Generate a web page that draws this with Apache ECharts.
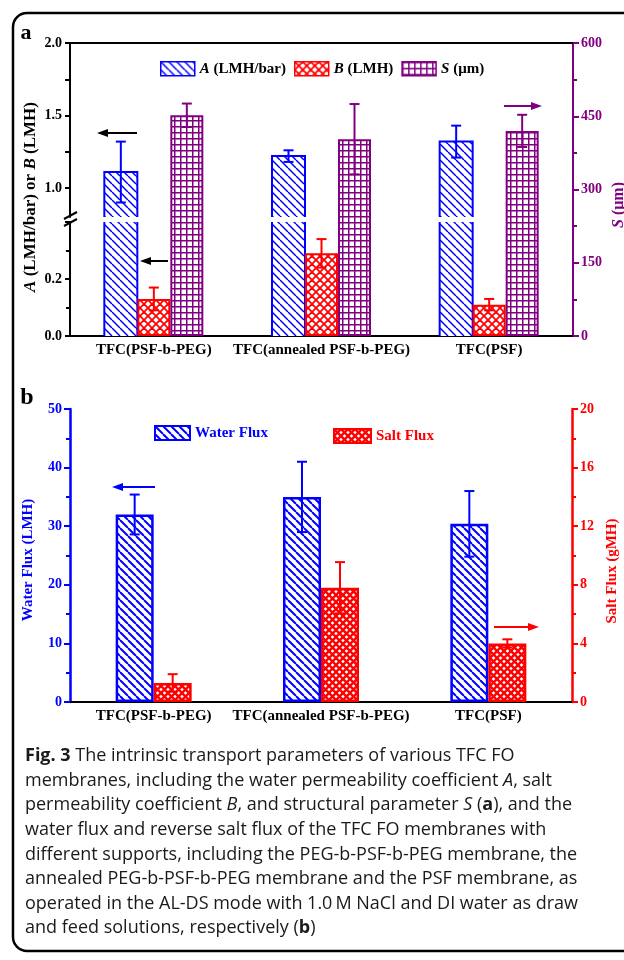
<!DOCTYPE html>
<html>
<head>
<meta charset="utf-8">
<script src="https://cdn.jsdelivr.net/npm/echarts@6/dist/echarts.min.js"></script>
<style>
html, body { margin: 0; padding: 0; background: #fff; }
#chart { width: 624px; height: 960px; }
</style>
</head>
<body>
<div id="chart"></div>
<script>
// membrane supports
const categories = ['TFC(PSF-b-PEG)', 'TFC(annealed PSF-b-PEG)', 'TFC(PSF)'];

// panel a: intrinsic transport parameters
const permA = [1.11, 1.22, 1.32];       // LMH/bar
const permAErr = [0.21, 0.04, 0.11];
const permB = [0.13, 0.29, 0.11];       // LMH
const permBErr = [0.04, 0.05, 0.02];
const structS = [452, 403, 420];        // um
const structSErr = [24, 72, 33];

// panel b: water flux and reverse salt flux
const waterFlux = [32.0, 35.0, 30.4];   // LMH
const waterFluxErr = [3.4, 6.0, 5.6];
const saltFlux = [1.3, 7.8, 4.0];       // gMH
const saltFluxErr = [0.6, 1.75, 0.28];

// tick values of the broken left axis in panel a
const upperLabels = [1.0, 1.5, 2.0];
const upperTicks = [1.0, 1.25, 1.5, 1.75, 2.0];
const BREAK_LOW = 0.4, BREAK_HIGH = 0.8;

const SERIF = "'Liberation Serif', 'DejaVu Serif', serif";
const BLUE = '#0000ff', RED = '#ff0000', PURPLE = '#800080';
const BAR_A = 33, BAR_B = 38;
const CAP_SIZE = 18;

// hatch pattern tiles
function tile(size, draw) {
	const c = document.createElement('canvas');
	c.width = c.height = size;
	const g = c.getContext('2d');
	g.fillStyle = '#fff';
	g.fillRect(0, 0, size, size);
	draw(g, size);
	return {image: c, repeat: 'repeat'};
}
function diag(color, s, lw) {
	return tile(s, (g) => {
		g.strokeStyle = color; g.lineWidth = lw;
		for (let k = -1; k <= 1; k++) {
			g.beginPath(); g.moveTo(k * s, 0); g.lineTo(k * s + s, s); g.stroke();
		}
	});
}
function cross(color, s, lw) {
	return tile(s, (g) => {
		g.strokeStyle = color; g.lineWidth = lw;
		for (let k = -1; k <= 1; k++) {
			g.beginPath(); g.moveTo(k * s, 0); g.lineTo(k * s + s, s); g.stroke();
			g.beginPath(); g.moveTo(k * s + s, 0); g.lineTo(k * s, s); g.stroke();
		}
	});
}
function grid(color, s, lw) {
	return tile(s, (g) => {
		g.fillStyle = color;
		g.fillRect(0, 0, lw, s);
		g.fillRect(0, 0, s, lw);
	});
}
const patA = diag(BLUE, 8, 1.5);
const patB = cross(RED, 8, 1.8);
const patS = grid(PURPLE, 6, 1.5);
const patW = diag(BLUE, 8, 2);
const patSalt = cross(RED, 7, 2.4);

// A bars are cut by the axis break, so draw each piece with side edges only
function aPiece(lo, hi) {
	return function (params, api) {
		const i = api.value(0), v = api.value(1);
		if (v <= lo) return null;
		const top = api.coord([i, Math.min(v, hi)]);
		const base = api.coord([i, lo]);
		const x0 = top[0] - 1.5 * BAR_A, x1 = top[0] - 0.5 * BAR_A;
		const st = {stroke: BLUE, lineWidth: 2, fill: null};
		const children = [{type: 'rect', shape: {x: x0, y: top[1], width: BAR_A, height: base[1] - top[1]}, style: {fill: patA}}];
		if (v <= hi) {
			children.push({type: 'polyline', shape: {points: [[x0, base[1]], [x0, top[1]], [x1, top[1]], [x1, base[1]]]}, style: st});
		} else {
			children.push({type: 'line', shape: {x1: x0, y1: base[1], x2: x0, y2: top[1]}, style: st});
			children.push({type: 'line', shape: {x1: x1, y1: base[1], x2: x1, y2: top[1]}, style: st});
		}
		return {type: 'group', children};
	};
}

function errBar(offset, color) {
	return function (params, api) {
		const i = api.value(0), v = api.value(1), e = api.value(2);
		const hi = api.coord([i, v + e]), lo = api.coord([i, v - e]);
		const x = hi[0] + offset;
		const st = {stroke: color, lineWidth: 2};
		return {type: 'group', children: [
			{type: 'line', shape: {x1: x, y1: hi[1], x2: x, y2: lo[1]}, style: st},
			{type: 'line', shape: {x1: x - 5, y1: hi[1], x2: x + 5, y2: hi[1]}, style: st},
			{type: 'line', shape: {x1: x - 5, y1: lo[1], x2: x + 5, y2: lo[1]}, style: st}
		]};
	};
}
const withErr = (vals, errs) => vals.map((v, i) => [i, v, errs[i]]);

function arrow(xFrom, xTo, y, color) {
	const d = xTo > xFrom ? 1 : -1;
	return {type: 'group', children: [
		{type: 'line', shape: {x1: xFrom, y1: y, x2: xTo - d * 8, y2: y}, style: {stroke: color, lineWidth: 2}},
		{type: 'polygon', shape: {points: [[xTo, y], [xTo - d * 11, y - 4], [xTo - d * 11, y + 4]]}, style: {fill: color}}
	]};
}
function vTitle(x, y, text, color, size, rich) {
	return {type: 'text', x, y, rotation: Math.PI / 2, style: {
		text, fill: color, fontFamily: SERIF, fontWeight: 'bold', fontSize: size,
		align: 'center', verticalAlign: 'middle', rich
	}};
}

const hiddenX = (gi) => ({type: 'category', gridIndex: gi, data: categories, show: false});
const labelX = (gi) => ({
	type: 'category', gridIndex: gi, data: categories, position: 'bottom',
	axisLine: {lineStyle: {color: '#000', width: 2}}, axisTick: {show: false},
	axisLabel: {interval: 0, color: '#000', fontFamily: SERIF, fontWeight: 'bold', fontSize: 15, margin: 7}
});
const topLine = (gi) => ({
	type: 'category', gridIndex: gi, data: categories, position: 'top',
	axisLine: {lineStyle: {color: '#000', width: 2}}, axisTick: {show: false}, axisLabel: {show: false}
});
const tickFont = (color) => ({color, fontFamily: SERIF, fontWeight: 'bold', fontSize: 14, margin: 8});
const placeholder = (x, y, w) => ({type: 'bar', name: '_slot', xAxisIndex: x, yAxisIndex: y, barWidth: w, barGap: '0%', data: categories.map(() => '-')});

const legendRich = {i: {fontStyle: 'italic', fontWeight: 'bold', fontFamily: SERIF, fontSize: 15, color: '#000'}};
const legendNames = {A: '{i|A} (LMH/bar)', B: '{i|B} (LMH)', S: '{i|S} (μm)'};
const capRich = {
	b: {fontWeight: 'bold', fontFamily: 'Open Sans', fontSize: CAP_SIZE, fill: '#1a1a1a'},
	i: {fontStyle: 'italic', fontFamily: 'Open Sans', fontSize: CAP_SIZE, fill: '#1a1a1a'}
};
const captionLines = [
	'{b|Fig. 3} The intrinsic transport parameters of various TFC FO',
	'membranes, including the water permeability coefficient {i|A}, salt',
	'permeability coefficient {i|B}, and structural parameter {i|S} ({b|a}), and the',
	'water flux and reverse salt flux of the TFC FO membranes with',
	'different supports, including the PEG-b-PSF-b-PEG membrane, the',
	'annealed PEG-b-PSF-b-PEG membrane and the PSF membrane, as',
	'operated in the AL-DS mode with 1.0\u2009M NaCl and DI water as draw',
	'and feed solutions, respectively ({b|b})'
];

const myChart = echarts.init(document.getElementById('chart'), null, {renderer: 'canvas'});
const option = {
	animation: false,
	backgroundColor: '#fff',
	grid: [
		{left: 70, right: 51, top: 43, height: 174},
		{left: 70, right: 51, top: 222, height: 114},
		{left: 70, right: 51, top: 43, height: 293},
		{left: 70, right: 52, top: 409, height: 293}
	],
	xAxis: [hiddenX(0), hiddenX(1), labelX(2), topLine(2), labelX(3), topLine(3)],
	yAxis: [
		{type: 'value', gridIndex: 0, position: 'left', min: BREAK_HIGH, max: 2.0,
			axisLine: {show: true, lineStyle: {color: '#000', width: 2}},
			axisTick: {show: true, length: 5, customValues: upperTicks, lineStyle: {width: 2}},
			axisLabel: Object.assign(tickFont('#000'), {customValues: upperLabels, formatter: (v) => v.toFixed(1)}),
			splitLine: {show: false}},
		{type: 'value', gridIndex: 1, position: 'left', min: 0, max: BREAK_LOW, interval: 0.2,
			axisLine: {show: true, lineStyle: {color: '#000', width: 2}},
			axisTick: {show: true, length: 5, lineStyle: {width: 2}},
			minorTick: {show: true, splitNumber: 2, length: 4, lineStyle: {color: '#000', width: 2}},
			axisLabel: Object.assign(tickFont('#000'), {showMaxLabel: false, formatter: (v) => v.toFixed(1)}),
			splitLine: {show: false}},
		{type: 'value', gridIndex: 2, position: 'right', min: 0, max: 600, interval: 150,
			axisLine: {show: true, lineStyle: {color: PURPLE, width: 2}},
			axisTick: {show: true, length: 6, lineStyle: {width: 2}},
			minorTick: {show: true, splitNumber: 2, length: 4, lineStyle: {color: PURPLE, width: 2}},
			axisLabel: tickFont(PURPLE), splitLine: {show: false}},
		{type: 'value', gridIndex: 3, position: 'left', min: 0, max: 50, interval: 10,
			axisLine: {show: true, lineStyle: {color: BLUE, width: 2.5}},
			axisTick: {show: true, length: 6, lineStyle: {width: 2}},
			minorTick: {show: true, splitNumber: 2, length: 4, lineStyle: {color: BLUE, width: 2}},
			axisLabel: tickFont(BLUE), splitLine: {show: false}},
		{type: 'value', gridIndex: 3, position: 'right', min: 0, max: 20, interval: 4,
			axisLine: {show: true, lineStyle: {color: RED, width: 2.5}},
			axisTick: {show: true, length: 6, lineStyle: {width: 2}},
			minorTick: {show: true, splitNumber: 2, length: 4, lineStyle: {color: RED, width: 2}},
			axisLabel: tickFont(RED), splitLine: {show: false}}
	],
	legend: [
		{left: 160, top: 61, padding: 0, icon: 'rect', itemWidth: 34, itemHeight: 14, itemGap: 8, selectedMode: false,
			data: [
				{name: 'A', itemStyle: {color: patA, borderColor: BLUE, borderWidth: 1.5}},
				{name: 'B', itemStyle: {color: patB, borderColor: RED, borderWidth: 1.5}},
				{name: 'S', itemStyle: {color: patS, borderColor: PURPLE, borderWidth: 1.5}}
			],
			formatter: (n) => legendNames[n],
			textStyle: {color: '#000', fontFamily: SERIF, fontWeight: 'bold', fontSize: 15, rich: legendRich}},
		{left: 154, top: 425, padding: 0, icon: 'rect', itemWidth: 35, itemHeight: 14, selectedMode: false,
			data: [{name: 'Water Flux', itemStyle: {color: patW, borderColor: BLUE, borderWidth: 2}}],
			textStyle: {color: BLUE, fontFamily: SERIF, fontWeight: 'bold', fontSize: 15}},
		{left: 333, top: 428, padding: 0, icon: 'rect', itemWidth: 37, itemHeight: 14, selectedMode: false,
			data: [{name: 'Salt Flux', itemStyle: {color: patSalt, borderColor: RED, borderWidth: 2}}],
			textStyle: {color: RED, fontFamily: SERIF, fontWeight: 'bold', fontSize: 15}}
	],
	series: [
		// panel a, upper piece of A above the break
		{type: 'custom', name: 'A', xAxisIndex: 0, yAxisIndex: 0, itemStyle: {color: BLUE},
			renderItem: aPiece(BREAK_HIGH, 2.0), data: withErr(permA, permAErr)},
		// panel a, lower grid: A piece, B bars, slot for S
		{type: 'custom', name: 'A', xAxisIndex: 1, yAxisIndex: 1, itemStyle: {color: BLUE},
			renderItem: aPiece(0, BREAK_LOW), data: withErr(permA, permAErr)},
		placeholder(1, 1, BAR_A),
		{type: 'bar', name: 'B', xAxisIndex: 1, yAxisIndex: 1, barWidth: BAR_A, barGap: '0%', data: permB,
			itemStyle: {color: patB, borderColor: RED, borderWidth: 2}},
		placeholder(1, 1, BAR_A),
		// panel a, full height grid: S bars on the right axis
		placeholder(2, 2, BAR_A),
		placeholder(2, 2, BAR_A),
		{type: 'bar', name: 'S', xAxisIndex: 2, yAxisIndex: 2, barWidth: BAR_A, barGap: '0%', data: structS,
			itemStyle: {color: patS, borderColor: PURPLE, borderWidth: 2}},
		{type: 'custom', name: 'A err', xAxisIndex: 0, yAxisIndex: 0, z: 5, renderItem: errBar(-BAR_A, BLUE), data: withErr(permA, permAErr)},
		{type: 'custom', name: 'B err', xAxisIndex: 1, yAxisIndex: 1, z: 5, renderItem: errBar(0, RED), data: withErr(permB, permBErr)},
		{type: 'custom', name: 'S err', xAxisIndex: 2, yAxisIndex: 2, z: 5, renderItem: errBar(BAR_A, PURPLE), data: withErr(structS, structSErr)},
		// panel b
		{type: 'bar', name: 'Water Flux', xAxisIndex: 4, yAxisIndex: 3, barWidth: BAR_B, barGap: '0%', data: waterFlux,
			itemStyle: {color: patW, borderColor: BLUE, borderWidth: 2.5}},
		{type: 'bar', name: 'Salt Flux', xAxisIndex: 4, yAxisIndex: 4, barWidth: BAR_B, barGap: '0%', data: saltFlux,
			itemStyle: {color: patSalt, borderColor: RED, borderWidth: 2.5}},
		{type: 'custom', name: 'W err', xAxisIndex: 4, yAxisIndex: 3, z: 5, renderItem: errBar(-BAR_B / 2, BLUE), data: withErr(waterFlux, waterFluxErr)},
		{type: 'custom', name: 'Salt err', xAxisIndex: 4, yAxisIndex: 4, z: 5, renderItem: errBar(BAR_B / 2, RED), data: withErr(saltFlux, saltFluxErr)}
	],
	graphic: [
		{type: 'rect', shape: {x: 13, y: 13, width: 640, height: 938, r: 14}, style: {fill: null, stroke: '#000', lineWidth: 2.5}, z: 10},
		{type: 'text', x: 26, y: 33, style: {text: 'a', fontFamily: SERIF, fontWeight: 'bold', fontSize: 22, fill: '#000', align: 'center', verticalAlign: 'middle'}},
		{type: 'text', x: 27, y: 398, style: {text: 'b', fontFamily: SERIF, fontWeight: 'bold', fontSize: 24, fill: '#000', align: 'center', verticalAlign: 'middle'}},
		// axis break marks
		{type: 'line', shape: {x1: 64, y1: 219, x2: 77, y2: 212}, style: {stroke: '#000', lineWidth: 2}},
		{type: 'line', shape: {x1: 64, y1: 226, x2: 77, y2: 219}, style: {stroke: '#000', lineWidth: 2}},
		vTitle(31, 197, '{i|A} (LMH/bar) or {i|B} (LMH)', '#000', 17,
			{i: {fontStyle: 'italic', fontWeight: 'bold', fontFamily: SERIF, fontSize: 17, fill: '#000'}}),
		vTitle(619, 205, '{i|S} (μm)', PURPLE, 16,
			{i: {fontStyle: 'italic', fontWeight: 'bold', fontFamily: SERIF, fontSize: 16, fill: PURPLE}}),
		vTitle(28, 560, 'Water Flux (LMH)', BLUE, 15),
		vTitle(612, 571, 'Salt Flux (gMH)', RED, 15),
		arrow(137, 97, 133, '#000'),
		arrow(168, 140, 261, '#000'),
		arrow(504, 542, 106, PURPLE),
		arrow(155, 112, 487, BLUE),
		arrow(494, 539, 627, RED),
		...captionLines.map((t, k) => ({type: 'text', x: 25, y: 756 + k * 24.6, style: {
			text: t, fontFamily: 'Open Sans', fontSize: CAP_SIZE, fill: '#1a1a1a', verticalAlign: 'middle', rich: capRich
		}}))
	]
};
option && myChart.setOption(option);
</script>
</body>
</html>
